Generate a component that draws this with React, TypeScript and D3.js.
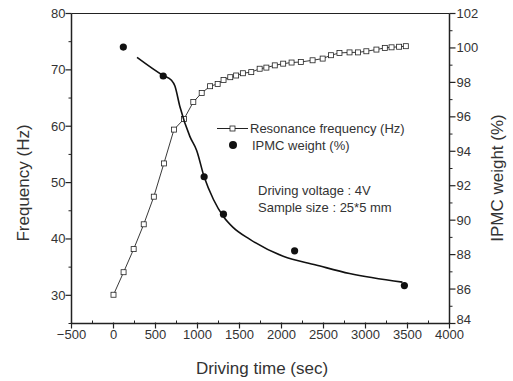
import React from "react";
import * as d3 from "d3";

const freqTime = [0, 120, 240, 360, 480, 600, 720, 840, 950, 1050, 1150, 1240, 1310, 1390, 1460, 1540, 1640, 1740, 1820, 1920, 2020, 2120, 2230, 2370, 2490, 2590, 2690, 2810, 2910, 3010, 3130, 3230, 3310, 3400, 3480];
const freqValue = [30.1, 34.1, 38.2, 42.6, 47.5, 53.4, 59.4, 61.3, 64.3, 65.9, 67.1, 67.5, 68.2, 68.7, 69.0, 69.4, 69.6, 70.2, 70.4, 70.8, 71.1, 71.3, 71.4, 71.7, 72.0, 72.6, 73.0, 73.1, 73.1, 73.3, 73.6, 73.9, 74.0, 74.1, 74.2];

const weightTime = [117, 592, 1079, 1309, 2156, 3463];
const weightValue = [100.05, 98.37, 92.52, 90.35, 88.22, 86.2];

const fitTime = [280, 590, 690, 730, 790, 910, 990, 1080, 1190, 1310, 1420, 1620, 2020, 2410, 2810, 3440];
const fitValue = [99.45, 98.4, 98.12, 97.8, 96.6, 94.85, 94.05, 92.5, 91.2, 90.2, 89.6, 88.9, 87.9, 87.4, 86.9, 86.4];

const xTicks = [-500, 0, 500, 1000, 1500, 2000, 2500, 3000, 3500, 4000];
const yLeftTicks = [30, 40, 50, 60, 70, 80];
const yRightTicks = [84, 86, 88, 90, 92, 94, 96, 98, 100, 102];

export default function App() {
  const W = 513, H = 381;
  const L = 71.5, R = 449.5, T = 13.5, B = 323.5;
  const x = d3.scaleLinear().domain([-500, 4000]).range([L, R]);
  const yL = d3.scaleLinear().domain([25, 80]).range([B, T]);
  const yR = d3.scaleLinear().domain([84, 102]).range([B, T]);
  const font = "'Liberation Sans', Arial, sans-serif";
  const col = "#222";
  const txt = "#333";

  const freqPts = freqTime.map((t, i) => [x(t), yL(freqValue[i])] as [number, number]);
  const fitPts = fitTime.map((t, i) => [x(t), yR(fitValue[i])] as [number, number]);
  const freqLine = d3.line().curve(d3.curveLinear)(freqPts) || "";
  const fitLine = d3.line().curve(d3.curveMonotoneX)(fitPts) || "";

  const xMinor = d3.range(-250, 4000, 500);
  const yLMinor = d3.range(25, 80, 10);
  const yRMinor = d3.range(85, 102, 2);

  return (
    <svg width={W} height={H} style={{ position: "absolute", left: 0, top: 0, background: "#fff" }}>
      <rect x={0} y={0} width={W} height={H} fill="#fff" />
      {/* frame */}
      <line x1={L} y1={T} x2={R} y2={T} stroke={col} strokeWidth={1.2} />
      <line x1={L} y1={T} x2={L} y2={B} stroke={col} strokeWidth={1.5} />
      <line x1={R} y1={T} x2={R} y2={B} stroke={col} strokeWidth={1.5} />
      <line x1={L} y1={B} x2={R} y2={B} stroke={col} strokeWidth={1.5} />

      {/* x ticks */}
      {xTicks.map((t) => (
        <g key={"xt" + t}>
          <line x1={x(t)} y1={B - 1} x2={x(t)} y2={B + 5} stroke={col} strokeWidth={1.2} />
          <text x={x(t)} y={339} textAnchor="middle" fontSize={13} fontFamily={font} fill={txt}>
            {t < 0 ? "\u2212" + Math.abs(t) : t}
          </text>
        </g>
      ))}
      {xMinor.map((t) => (
        <line key={"xm" + t} x1={x(t)} y1={B - 3} x2={x(t)} y2={B} stroke={col} strokeWidth={1} />
      ))}

      {/* left y ticks */}
      {yLeftTicks.map((t) => (
        <g key={"yl" + t}>
          <line x1={L - 6} y1={yL(t)} x2={L} y2={yL(t)} stroke={col} strokeWidth={1.2} />
          <text x={L - 6} y={yL(t) + 4.5} textAnchor="end" fontSize={13} fontFamily={font} fill={txt}>
            {t}
          </text>
        </g>
      ))}
      {yLMinor.map((t) => (
        <line key={"ylm" + t} x1={L - 3} y1={yL(t)} x2={L} y2={yL(t)} stroke={col} strokeWidth={1} />
      ))}

      {/* right y ticks */}
      {yRightTicks.map((t) => (
        <g key={"yr" + t}>
          <line x1={R} y1={yR(t)} x2={R + 6} y2={yR(t)} stroke={col} strokeWidth={1.2} />
          <text x={R + 7} y={yR(t) + (t === 84 ? 0 : 4.5)} textAnchor="start" fontSize={13} fontFamily={font} fill={txt}>
            {t}
          </text>
        </g>
      ))}
      {yRMinor.map((t) => (
        <line key={"yrm" + t} x1={R} y1={yR(t)} x2={R + 3} y2={yR(t)} stroke={col} strokeWidth={1} />
      ))}

      {/* axis titles */}
      <text x={262} y={374} textAnchor="middle" fontSize={17} fontFamily={font} fill={txt}>
        Driving time (sec)
      </text>
      <text transform={`translate(29,183) rotate(-90)`} textAnchor="middle" fontSize={17} fontFamily={font} fill={txt}>
        Frequency (Hz)
      </text>
      <text transform={`translate(503,178) rotate(-90)`} textAnchor="middle" fontSize={17} fontFamily={font} fill={txt}>
        IPMC weight (%)
      </text>

      {/* resonance frequency series */}
      <path d={freqLine} fill="none" stroke={col} strokeWidth={0.9} />
      {freqPts.map(([px, py], i) => (
        <rect key={"sq" + i} x={px - 2.5} y={py - 2.5} width={5} height={5} fill="#fff" stroke={col} strokeWidth={0.8} />
      ))}

      {/* IPMC weight fit curve */}
      <path d={fitLine} fill="none" stroke="#111" strokeWidth={1.6} />
      {weightTime.map((t, i) => (
        <circle key={"dot" + i} cx={x(t)} cy={yR(weightValue[i])} r={3.6} fill="#111" />
      ))}

      {/* legend */}
      <line x1={217} y1={128.5} x2={248} y2={128.5} stroke={col} strokeWidth={1} />
      <rect x={230} y={126} width={5} height={5} fill="#fff" stroke={col} strokeWidth={0.8} />
      <text x={250} y={133} fontSize={13} fontFamily={font} fill={txt}>Resonance frequency (Hz)</text>
      <circle cx={233} cy={145} r={4} fill="#111" />
      <text x={252} y={150} fontSize={13} fontFamily={font} fill={txt}>IPMC weight (%)</text>

      <text x={258} y={195} fontSize={13} fontFamily={font} fill={txt}>Driving voltage : 4V</text>
      <text x={258} y={212} fontSize={13} fontFamily={font} fill={txt}>Sample size : 25*5 mm</text>
    </svg>
  );
}
